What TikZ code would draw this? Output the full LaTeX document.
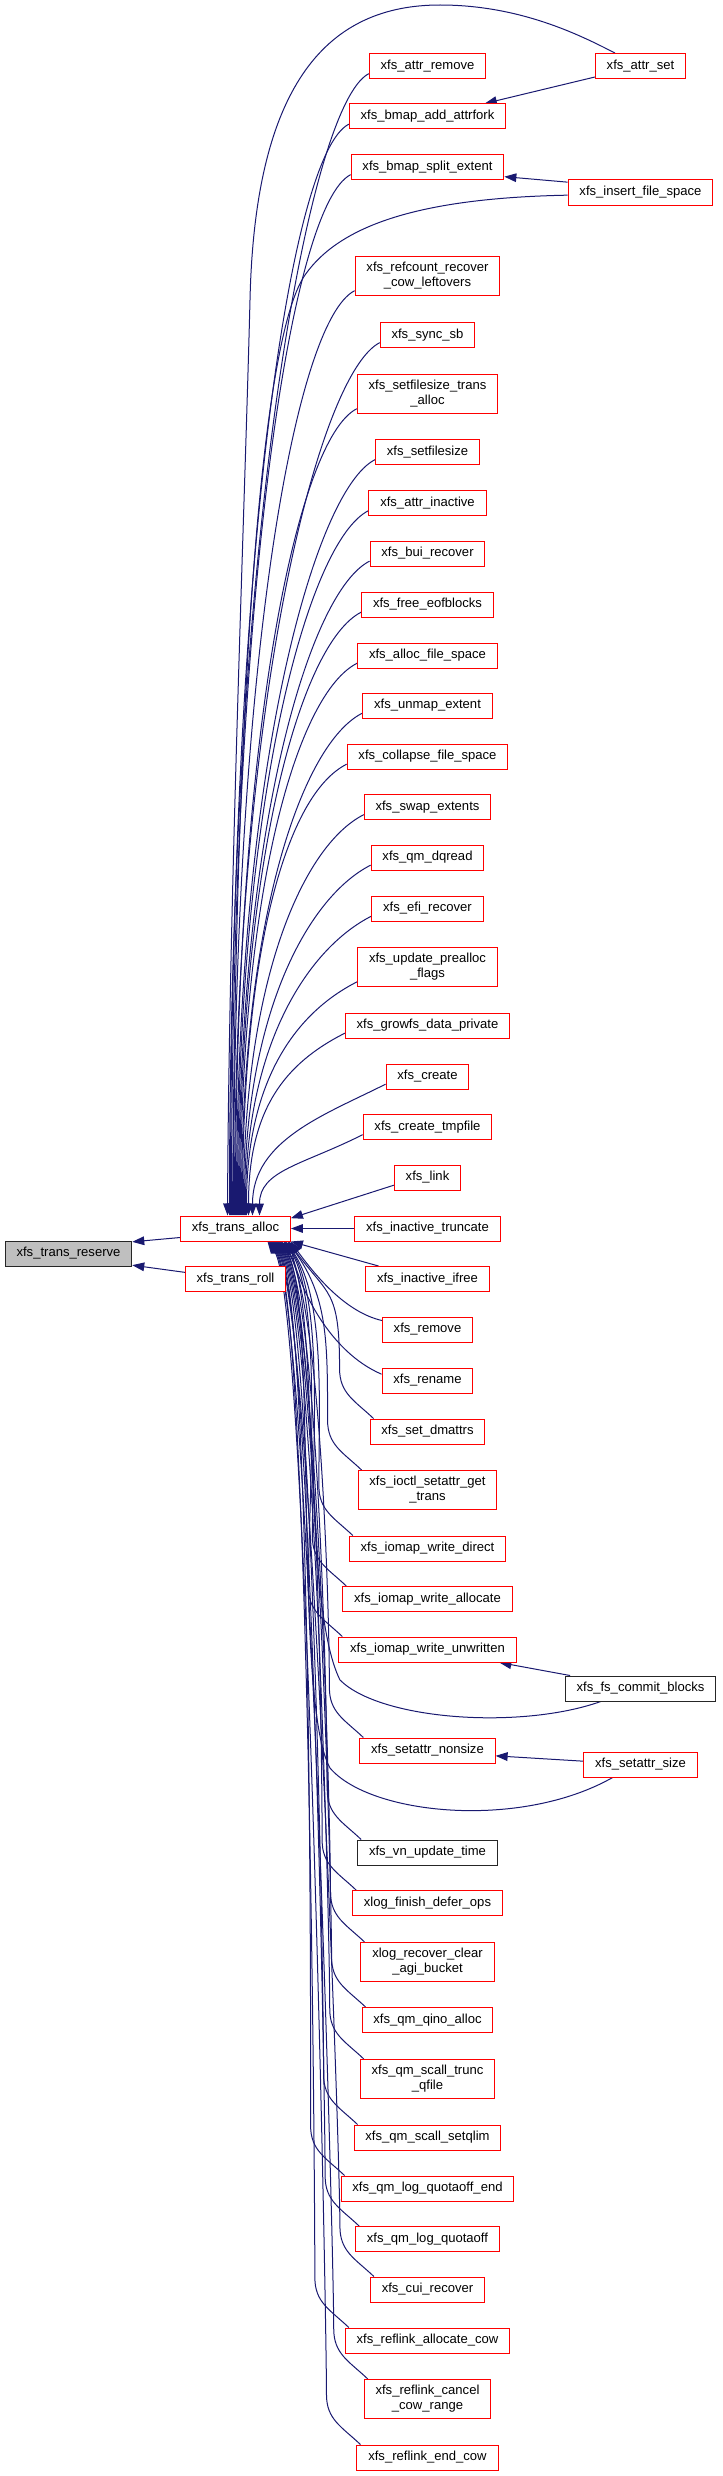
\documentclass[tikz,border=0pt]{standalone}
\usepackage{fontspec}
\setmainfont{Liberation Sans}
\usetikzlibrary{arrows.meta,calc,backgrounds}
\definecolor{callblue}{HTML}{191970}
\definecolor{fnred}{HTML}{FF0000}
\definecolor{rootgray}{HTML}{BFBFBF}
\tikzset{
  fn/.style={draw=fnred, fill=white, line width=0.75pt, inner xsep=8.5pt, inner ysep=4.5pt,
             minimum height=18.75pt, align=center, font=\fontsize{9.8pt}{11.25pt}\selectfont},
  fnplain/.style={fn, draw=black!85},
  fnroot/.style={fn, draw=black!85, fill=rootgray},
  call/.style={<-, >={Triangle[length=9pt,width=6.5pt]}, draw=callblue, line width=0.75pt}
}

\begin{document}
\begin{tikzpicture}[x=0.75pt,y=0.75pt]
  \useasboundingbox (0,0) rectangle (723,-2476);

  % callee chain
  \node[fnroot] (reserve) at (68.5,-1253.5) {xfs\_trans\_reserve};
  \node[fn] (talloc) at (235.5,-1228.5) {xfs\_trans\_alloc};
  \node[fn] (troll) at (235.5,-1279) {xfs\_trans\_roll};

  % callers of xfs_trans_alloc
  \foreach \n/\y/\lbl in {
      arem/66/{xfs\_attr\_remove},
      baf/116.5/{xfs\_bmap\_add\_attrfork},
      bse/167/{xfs\_bmap\_split\_extent},
      rcr/276/{xfs\_refcount\_recover\\\_cow\_leftovers},
      ssb/335/{xfs\_sync\_sb},
      sfta/394/{xfs\_setfilesize\_trans\\\_alloc},
      sfs/452/{xfs\_setfilesize},
      ain/503/{xfs\_attr\_inactive},
      bui/553.5/{xfs\_bui\_recover},
      feb/604.5/{xfs\_free\_eofblocks},
      afs/655.5/{xfs\_alloc\_file\_space},
      ume/705.5/{xfs\_unmap\_extent},
      cfs/756.5/{xfs\_collapse\_file\_space},
      swe/807/{xfs\_swap\_extents},
      dqr/857.5/{xfs\_qm\_dqread},
      efi/908.5/{xfs\_efi\_recover},
      upf/967/{xfs\_update\_prealloc\\\_flags},
      gdp/1025.5/{xfs\_growfs\_data\_private},
      cre/1076.5/{xfs\_create},
      ctf/1127/{xfs\_create\_tmpfile},
      lnk/1177.5/{xfs\_link},
      itr/1228.5/{xfs\_inactive\_truncate},
      iif/1279/{xfs\_inactive\_ifree},
      rem/1329.5/{xfs\_remove},
      ren/1380.5/{xfs\_rename},
      sdm/1431.5/{xfs\_set\_dmattrs},
      isg/1490/{xfs\_ioctl\_setattr\_get\\\_trans},
      iwd/1548.5/{xfs\_iomap\_write\_direct},
      iwa/1599/{xfs\_iomap\_write\_allocate},
      iwu/1649.5/{xfs\_iomap\_write\_unwritten},
      san/1750.5/{xfs\_setattr\_nonsize},
      lfd/1903/{xlog\_finish\_defer\_ops},
      lrc/1962/{xlog\_recover\_clear\\\_agi\_bucket},
      qia/2020/{xfs\_qm\_qino\_alloc},
      stq/2079/{xfs\_qm\_scall\_trunc\\\_qfile},
      ssq/2137.5/{xfs\_qm\_scall\_setqlim},
      lqe/2188.5/{xfs\_qm\_log\_quotaoff\_end},
      lqo/2239/{xfs\_qm\_log\_quotaoff},
      cui/2289.5/{xfs\_cui\_recover},
      rac/2340.5/{xfs\_reflink\_allocate\_cow},
      rcc/2399/{xfs\_reflink\_cancel\\\_cow\_range},
      rec/2457.5/{xfs\_reflink\_end\_cow}}
    \node[fn] (\n) at (427.5,-\y) {\lbl};
  \node[fnplain] (vut) at (427.5,-1852.5) {xfs\_vn\_update\_time};

  % second-level callers
  \node[fn] (aset) at (640.5,-66) {xfs\_attr\_set};
  \node[fn] (ifs) at (640.5,-192.5) {xfs\_insert\_file\_space};
  \node[fnplain] (fcb) at (640.5,-1688.5) {xfs\_fs\_commit\_blocks};
  \node[fn] (sas) at (640.5,-1764.5) {xfs\_setattr\_size};

  \begin{scope}[on background layer]
  % edges into xfs_trans_reserve
  \draw[call] ([yshift=-1pt]reserve.north east) -- ([yshift=3pt]talloc.south west);
  \draw[call] ([yshift=1pt]reserve.south east) -- ([yshift=5pt]troll.west);

  % callers above
  \foreach \n/\sh in {arem/-6, baf/-5, bse/-4, rcr/-2, ssb/-1, sfta/0, sfs/1, ain/2, bui/3,
      feb/4, afs/5, ume/6, cfs/7, swe/8, dqr/9, efi/10, upf/11, gdp/13, cre/17, ctf/24}
    \draw[call] ($(talloc.north)+(\sh,0)$)
      .. controls ($(talloc.north)!0.6!(talloc.north |- \n.south)+(\sh,0)$)
      and ($(\n.south west)+(-60,-25)$) .. ([yshift=4pt]\n.south west);

  % callers below
  \foreach \n/\sh in {sdm/53, isg/52, iwd/50, iwa/49, iwu/48, san/45, vut/43, lfd/42,
      lrc/41, qia/40, stq/39, ssq/38, lqe/37, lqo/36, cui/35, rac/34, rcc/33, rec/32}
    \draw[call] ($(talloc.south)+(\sh,0)$)
      .. controls ($(talloc.south)+(\sh+40,-55)$) and ($(\n.north west)+(-30,130)$)
      .. ($(\n.north west)+(-30,50)$)
      .. controls ($(\n.north west)+(-30,25)$) and ($(\n.north west)+(-15,18)$)
      .. ([xshift=3pt]\n.north west);

  % near callers
  \draw[call] ([yshift=-2pt]talloc.north east) -- ([yshift=4pt]lnk.south west);
  \draw[call] (talloc.east) -- (itr.west);
  \draw[call] (talloc.south east) -- ([xshift=10pt]iif.north west);
  \draw[call] ($(talloc.south)+(55,0)$) .. controls (315,-1275) and (345,-1312)
    .. ([yshift=-3pt]rem.north west);
  \draw[call] ($(talloc.south)+(54,0)$) .. controls (300,-1290) and (330,-1352)
    .. ([yshift=-5pt]ren.north west);

  % long loops
  \draw[call] ($(talloc.north)+(-8,0)$) .. controls (229,-900) and (245,-500) .. (250,-300)
    .. controls (255,-80) and (330,-5) .. (440,-5)
    .. controls (520,-5) and (580,-35) .. ([xshift=15pt]aset.north west);
  \draw[call] ($(talloc.north)+(-3,0)$) .. controls (236,-700) and (260,-340) .. (305,-275)
    .. controls (340,-225) and (420,-198) .. ([yshift=-2pt]ifs.west);
  \draw[call] ($(talloc.south)+(46,0)$) .. controls (321,-1296) and (300,-1600) .. (340,-1680)
    .. controls (380,-1720) and (520,-1730) .. ([xshift=27pt]fcb.south west);
  \draw[call] ($(talloc.south)+(44,0)$) .. controls (319,-1296) and (292,-1700) .. (330,-1768)
    .. controls (370,-1815) and (520,-1830) .. ([xshift=22pt]sas.south west);

  % second level
  \draw[call] ([xshift=-16pt]baf.north east) -- ([yshift=1.5pt]aset.south west);
  \draw[call] ([yshift=2.5pt]bse.south east) -- ([yshift=-2pt]ifs.north west);
  \draw[call] ([xshift=-13pt]iwu.south east) -- ([xshift=4pt]fcb.north west);
  \draw[call] ([yshift=-4pt]san.east) -- ([yshift=2.5pt]sas.west);
  \end{scope}
\end{tikzpicture}
\end{document}
